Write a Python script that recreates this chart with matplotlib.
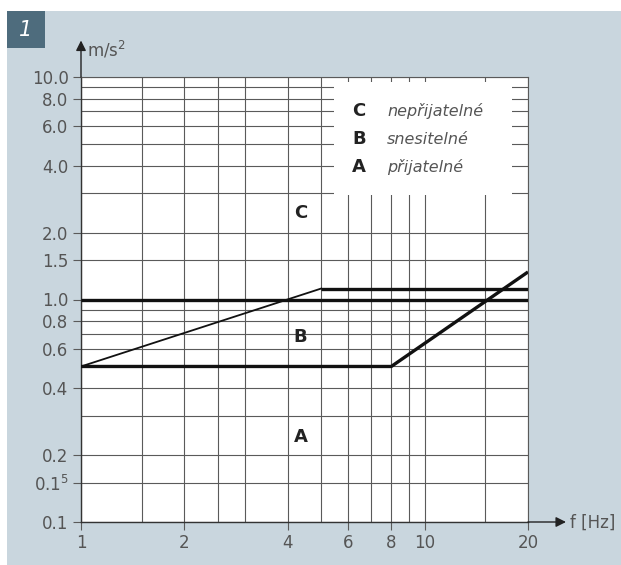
import matplotlib
matplotlib.use("Agg")
import matplotlib.pyplot as plt
from matplotlib.patches import Rectangle
from matplotlib.ticker import FixedLocator, NullFormatter

# hranice pásem (f [Hz], a [m/s2])
f_lower = [1, 8, 20]
a_lower = [0.5, 0.5, 1.33]
f_one = [1, 20]
a_one = [1.0, 1.0]
f_ramp = [1, 5]
a_ramp = [0.5, 1.12]
f_flat = [5, 20]
a_flat = [1.12, 1.12]

x_major = [1, 2, 4, 6, 8, 10, 20]
x_minor = [1.5, 2.5, 3, 5, 7, 9, 15]
y_major = [0.1, 0.15, 0.2, 0.4, 0.6, 0.8, 1.0, 1.5, 2.0, 4.0, 6.0, 8.0, 10.0]
y_labels = ["0.1", "0.1$^{5}$", "0.2", "0.4", "0.6", "0.8", "1.0", "1.5", "2.0",
            "4.0", "6.0", "8.0", "10.0"]
y_minor = [0.3, 0.5, 0.7, 0.9, 3, 5, 7, 9]

zones = ["C", "B", "A"]
zone_names = ["nepřijatelné", "snesitelné", "přijatelné"]
zone_pos = [(4.35, 2.45), (4.35, 0.68), (4.35, 0.24)]

bg = "#c9d6de"
grid_c = "#5a5a5a"
txt_c = "#555555"

fig = plt.figure(figsize=(6.21, 5.65), dpi=100, facecolor="white")
fig.patches.append(Rectangle((7 / 621, 0), 1, (565 - 11) / 565, transform=fig.transFigure,
                             facecolor=bg, edgecolor="none", zorder=-5))
fig.patches.append(Rectangle((7 / 621, (565 - 48) / 565), 38 / 621, 37 / 565,
                             transform=fig.transFigure, facecolor="#4e6c7d",
                             edgecolor="none", zorder=-4))
fig.text(26 / 621, (565 - 30) / 565, "1", color="white", fontsize=15, style="italic",
         ha="center", va="center", family="DejaVu Sans")

ax = fig.add_axes([81 / 621, 43 / 565, 447 / 621, 445 / 565])
ax.set_facecolor("white")
ax.set_xscale("log")
ax.set_yscale("log")
ax.set_xlim(1, 20)
ax.set_ylim(0.1, 10)

ax.xaxis.set_major_locator(FixedLocator(x_major))
ax.xaxis.set_minor_locator(FixedLocator(x_minor))
ax.set_xticklabels([str(v) for v in x_major])
ax.xaxis.set_minor_formatter(NullFormatter())
ax.yaxis.set_major_locator(FixedLocator(y_major))
ax.yaxis.set_minor_locator(FixedLocator(y_minor))
ax.set_yticklabels(y_labels)
ax.yaxis.set_minor_formatter(NullFormatter())

ax.tick_params(which="major", length=6, width=0.8, color=grid_c, labelcolor=txt_c,
               labelsize=12, pad=3)
ax.tick_params(which="minor", length=0)
ax.grid(which="both", color=grid_c, linewidth=0.8, zorder=1)
ax.set_axisbelow(True)
for s in ["top", "right"]:
    ax.spines[s].set_color(grid_c)
    ax.spines[s].set_linewidth(0.8)
for s in ["left", "bottom"]:
    ax.spines[s].set_color("#333333")
    ax.spines[s].set_linewidth(1.0)

# bílé pole legendy
ax.add_patch(Rectangle((0.566, 0.735), 0.398, 0.254, transform=ax.transAxes,
                       facecolor="white", edgecolor="none", zorder=2))

ax.plot(f_one, a_one, color="#111111", linewidth=2.4, zorder=3, solid_capstyle="butt")
ax.plot(f_lower, a_lower, color="#111111", linewidth=2.4, zorder=3, solid_capstyle="butt")
ax.plot(f_ramp, a_ramp, color="#111111", linewidth=1.3, zorder=3)
ax.plot(f_flat, a_flat, color="#111111", linewidth=2.4, zorder=3, solid_capstyle="butt")

for z, (x, y) in zip(zones, zone_pos):
    ax.text(x, y, z, fontsize=13, fontweight="bold", color="#222222",
            ha="center", va="center", zorder=4)

for i, (z, name) in enumerate(zip(zones, zone_names)):
    yy = 1 - (111 + 28 * i - 77) / 445
    ax.text((359 - 81) / 447, yy, z, transform=ax.transAxes, fontsize=13,
            fontweight="bold", color="#222222", ha="center", va="center", zorder=4)
    ax.text((387 - 81) / 447, yy, name, transform=ax.transAxes, fontsize=11.5,
            style="italic", color="#555555", ha="left", va="center", zorder=4)

# šipky os
ax.annotate("", xy=(0, 1.082), xytext=(0, 1.0), xycoords="axes fraction",
            arrowprops=dict(arrowstyle="-|>", color="#222222", lw=1.0,
                            mutation_scale=15, shrinkA=0, shrinkB=0),
            annotation_clip=False)
ax.annotate("", xy=(1.085, 0), xytext=(1.0, 0), xycoords="axes fraction",
            arrowprops=dict(arrowstyle="-|>", color="#222222", lw=1.0,
                            mutation_scale=15, shrinkA=0, shrinkB=0),
            annotation_clip=False)
fig.text(87 / 621, (565 - 50) / 565, "m/s$^2$", fontsize=12, color=txt_c,
         ha="left", va="center")
fig.text(570 / 621, (565 - 523) / 565, "f [Hz]", fontsize=12, color=txt_c,
         ha="left", va="center")

fig.savefig("out.png", dpi=100, facecolor=fig.get_facecolor())
